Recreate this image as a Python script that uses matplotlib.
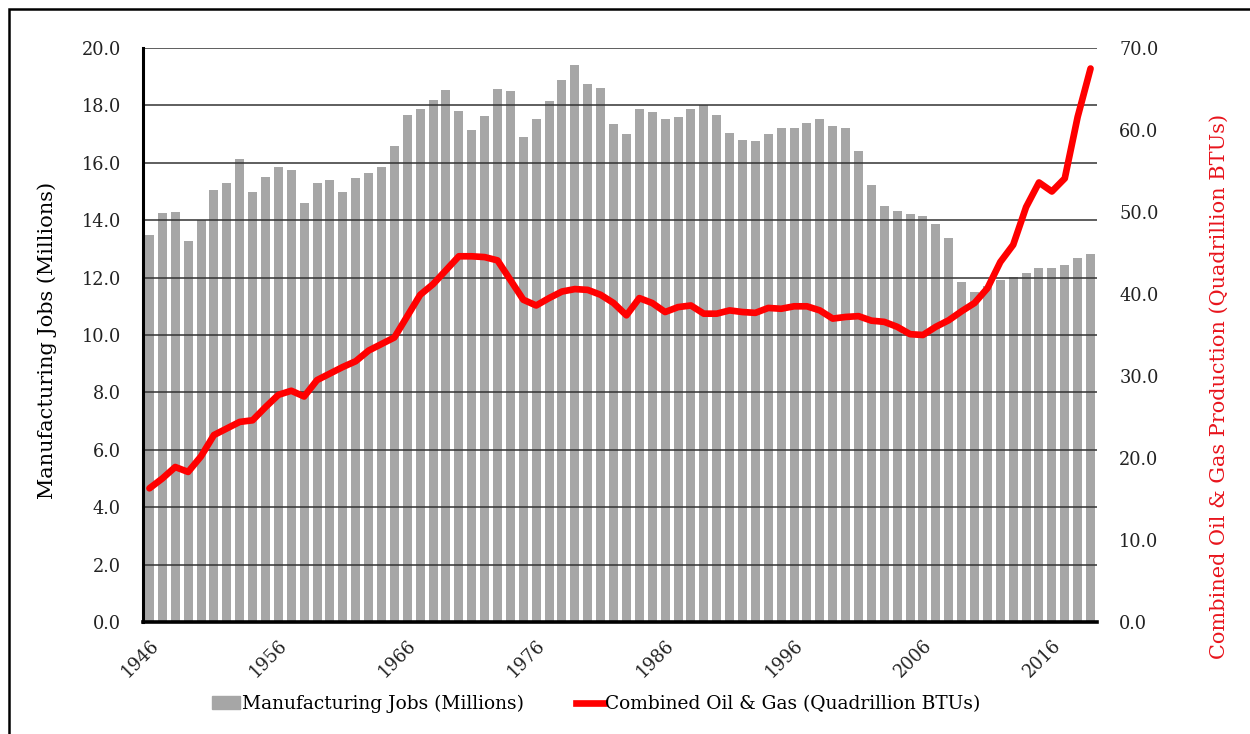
import matplotlib
matplotlib.use('Agg')
import matplotlib.pyplot as plt
import matplotlib.patches as mpatches
import numpy as np

plt.rcParams['font.family'] = ['DejaVu Serif']

# data
years = list(range(1946, 2020))
jobs = [13.5, 14.26, 14.3, 13.28, 13.99, 15.04, 15.28, 16.12, 14.99, 15.5,
        15.84, 15.76, 14.61, 15.29, 15.41, 15.0, 15.47, 15.63, 15.86, 16.59,
        17.65, 17.86, 18.2, 18.54, 17.81, 17.15, 17.63, 18.57, 18.49, 16.9,
        17.52, 18.17, 18.9, 19.41, 18.73, 18.61, 17.34, 17.01, 17.88, 17.78,
        17.54, 17.6, 17.87, 18.0, 17.65, 17.03, 16.78, 16.76, 16.99, 17.21,
        17.21, 17.39, 17.54, 17.29, 17.23, 16.41, 15.24, 14.49, 14.31, 14.21,
        14.14, 13.87, 13.37, 11.83, 11.51, 11.7, 11.91, 12.02, 12.17, 12.32,
        12.35, 12.44, 12.67, 12.83]
oil_gas = [16.3, 17.5, 18.9, 18.3, 20.2, 22.8, 23.6, 24.4, 24.6, 26.2,
           27.7, 28.2, 27.5, 29.5, 30.3, 31.1, 31.8, 33.1, 33.9, 34.7,
           37.3, 39.9, 41.2, 42.9, 44.6, 44.6, 44.5, 44.1, 41.7, 39.3,
           38.6, 39.5, 40.3, 40.6, 40.5, 39.9, 38.9, 37.4, 39.5, 38.9,
           37.8, 38.4, 38.6, 37.6, 37.6, 38.0, 37.8, 37.7, 38.3, 38.2,
           38.5, 38.5, 38.0, 37.0, 37.2, 37.3, 36.75, 36.6, 36.0, 35.1,
           35.0, 36.0, 36.8, 37.9, 38.9, 40.7, 43.9, 46.0, 50.6, 53.6,
           52.5, 54.1, 61.6, 67.5]

x = np.arange(len(years))

fig = plt.figure(figsize=(12.5, 7.34), dpi=100)
ax = fig.add_axes([0.1144, 0.1526, 0.7632, 0.782])
ax2 = ax.twinx()

# bars on the left axis
ax.bar(x, jobs, width=0.7, color='#a6a6a6', zorder=2,
       label='Manufacturing Jobs (Millions)')
ax.set_ylim(0, 20)
ax.set_xlim(-0.5, len(years) - 0.5)
ax.set_yticks(np.arange(0, 21, 2))
ax.set_yticklabels([f'{v:.1f}' for v in np.arange(0, 21, 2)])
ax.yaxis.grid(True, color='#333333', linewidth=1.1, zorder=3)
ax.set_axisbelow(False)
ax.set_xticks(x[::10])
ax.set_xticklabels([str(y) for y in years[::10]], rotation=45,
                   ha='right', rotation_mode='anchor')
ax.tick_params(axis='both', length=0, labelsize=12.8, colors='#222222')
ax.tick_params(axis='y', pad=16)
ax.tick_params(axis='x', pad=10)
ax.set_ylabel('Manufacturing Jobs (Millions)', fontsize=15)
ax.yaxis.set_label_coords(-0.090, 0.49)

# line on the right axis
ax2.plot(x, oil_gas, color='#ff0000', linewidth=4.8, solid_joinstyle='round',
         solid_capstyle='round', zorder=5,
         label='Combined Oil & Gas (Quadrillion BTUs)')
ax2.set_ylim(0, 70)
ax2.set_yticks(np.arange(0, 71, 10))
ax2.set_yticklabels([f'{v:.1f}' for v in np.arange(0, 71, 10)])
ax2.tick_params(axis='y', length=0, labelsize=12.8, colors='#222222', pad=16)
ax2.set_ylabel('Combined Oil & Gas Production (Quadrillion BTUs)',
               fontsize=15, color='#e8141c')
ax2.yaxis.set_label_coords(1.118, 0.411)

for a in (ax, ax2):
    a.spines['top'].set_visible(False)
    a.spines['right'].set_visible(False)
ax2.spines['left'].set_visible(False)
ax2.spines['bottom'].set_visible(False)
ax.spines['left'].set_linewidth(2.2)
ax.spines['bottom'].set_linewidth(2.6)
ax.spines['left'].set_zorder(6)
ax.spines['bottom'].set_zorder(6)

# legend below the axes
h1 = mpatches.Patch(color='#a6a6a6')
h2 = plt.Line2D([], [], color='#ff0000', linewidth=4.8)
fig.legend([h1, h2], ['Manufacturing Jobs (Millions)',
                      'Combined Oil & Gas (Quadrillion BTUs)'],
           loc='center', bbox_to_anchor=(0.477, 0.041), ncol=2, frameon=False,
           fontsize=13.4, handlelength=1.5, handletextpad=0.1,
           columnspacing=2.8)

# border of the picture
fig.add_artist(mpatches.Rectangle((0.007, -0.05), 1.1, 1.0377,
                                  transform=fig.transFigure, fill=False,
                                  edgecolor='black', linewidth=1.8))

fig.savefig('out.png', dpi=100)
